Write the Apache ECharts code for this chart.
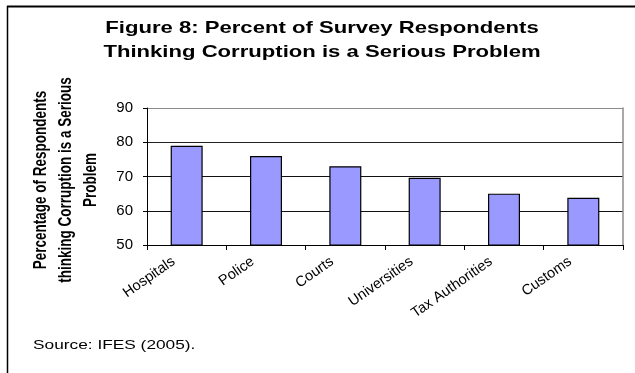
<!DOCTYPE html>
<html>
<head>
<meta charset="utf-8">
<script src="https://cdn.jsdelivr.net/npm/echarts@6/dist/echarts.min.js"></script>
<style>
  html, body { margin: 0; padding: 0; background: #fff; }
  #chart { width: 635px; height: 373px; }
</style>
</head>
<body>
<div id="chart"></div>
<script>
// Survey data: share of respondents who see corruption as a serious problem
const categories = ['Hospitals', 'Police', 'Courts', 'Universities', 'Tax Authorities', 'Customs'];
const percentSerious = [79, 76, 73, 69.6, 65, 63.8];
const yTicks = { min: 50, max: 90, step: 10 };

const titleLines = ['Figure 8: Percent of Survey Respondents', 'Thinking Corruption is a Serious Problem'];
const yAxisTitle = 'Percentage of Respondents\nthinking Corruption is a Serious\nProblem';
const sourceNote = 'Source: IFES (2005).';

const FONT = '"Liberation Sans", Arial, sans-serif';

const chart = echarts.init(document.getElementById('chart'), null, { renderer: 'canvas' });

chart.setOption({
  backgroundColor: '#fff',
  animation: false,
  grid: { left: 147, right: 12, top: 108, bottom: 128, containLabel: false },
  xAxis: {
    type: 'category',
    data: categories,
    axisLine: { show: true, lineStyle: { color: '#000', width: 1 } },
    axisTick: { show: true, alignWithLabel: false, length: 5, lineStyle: { color: '#000' } },
    axisLabel: {
      rotate: 35, interval: 0, margin: 6, padding: [0, 16, 0, 0],
      color: '#000', fontFamily: FONT, fontSize: 14.5
    },
    splitLine: { show: false }
  },
  yAxis: [{
    type: 'value',
    min: yTicks.min, max: yTicks.max, interval: yTicks.step,
    axisLine: { show: true, lineStyle: { color: '#000', width: 1 } },
    axisTick: { show: true, length: 4, lineStyle: { color: '#000' } },
    axisLabel: { color: '#000', fontFamily: FONT, fontSize: 15, margin: 14 },
    splitLine: {
      show: true,
      lineStyle: { color: ['#000', '#111', '#111', '#222', '#8c8c8c'], width: 1 }
    }
  }, {
    type: 'value',
    position: 'right',
    min: yTicks.min, max: yTicks.max, interval: yTicks.step,
    axisLine: { show: true, lineStyle: { color: '#8c8c8c', width: 1.5 } },
    axisTick: { show: false },
    axisLabel: { show: false },
    splitLine: { show: false }
  }],
  series: [{
    type: 'bar',
    data: percentSerious,
    barWidth: 32,
    itemStyle: { color: '#9999ff', borderColor: '#000', borderWidth: 1.2 }
  }],
  graphic: [
    // outer frame (top and left edges)
    { type: 'line', shape: { x1: 7, y1: 6.5, x2: 635, y2: 6.5 }, style: { stroke: '#000', lineWidth: 2 } },
    { type: 'line', shape: { x1: 7.5, y1: 6, x2: 7.5, y2: 373 }, style: { stroke: '#000', lineWidth: 1.5 } },
    // chart title, two lines
    {
      type: 'text', x: 322, y: 28, scaleX: 1.3,
      style: { text: titleLines[0], font: 'bold 17px ' + FONT, fill: '#000', textAlign: 'center', textVerticalAlign: 'middle' }
    },
    {
      type: 'text', x: 322, y: 52, scaleX: 1.3,
      style: { text: titleLines[1], font: 'bold 17px ' + FONT, fill: '#000', textAlign: 'center', textVerticalAlign: 'middle' }
    },
    // vertical axis title
    {
      type: 'text', x: 66, y: 180, rotation: Math.PI / 2, scaleY: 1.3,
      style: {
        text: yAxisTitle, font: 'bold 13.5px ' + FONT, fill: '#000',
        textAlign: 'center', textVerticalAlign: 'middle', lineHeight: 19
      }
    },
    // source note
    {
      type: 'text', x: 33, y: 345, scaleX: 1.33,
      style: { text: sourceNote, font: '13px ' + FONT, fill: '#000', textAlign: 'left', textVerticalAlign: 'middle' }
    }
  ]
});
</script>
</body>
</html>
